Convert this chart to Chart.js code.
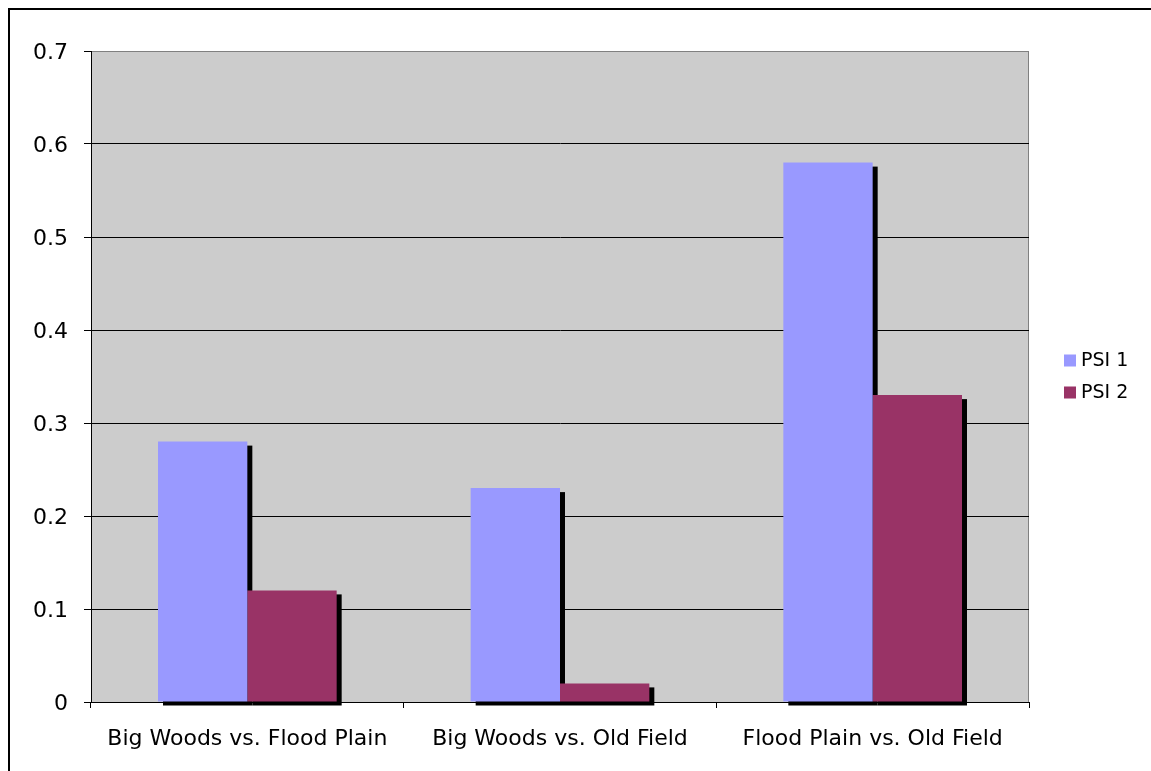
<!DOCTYPE html>
<html>
<head>
<meta charset="utf-8">
<title>PSI comparison</title>
<script src="https://cdn.jsdelivr.net/npm/chart.js@4.4.1/dist/chart.umd.min.js"></script>
<style>
  html, body { margin: 0; padding: 0; background: #fff; overflow: hidden; }
  body { width: 1151px; height: 771px; position: relative; }
  .frame {
    position: absolute; left: 8px; top: 8px; width: 2000px; height: 2000px;
    border-left: 2px solid #000; border-top: 2px solid #000;
  }
  #wrap { position: absolute; left: 0; top: 0; width: 1151px; height: 771px; }
</style>
</head>
<body>
<div class="frame"></div>
<div id="wrap"><canvas id="chart" width="1151" height="771"></canvas></div>
<script>
// Site pairs being compared
const categories = ['Big Woods vs. Flood Plain', 'Big Woods vs. Old Field', 'Flood Plain vs. Old Field'];
// Similarity index values per pair
const psi1 = [0.28, 0.23, 0.58];
const psi2 = [0.12, 0.02, 0.33];
const seriesNames = ['PSI 1', 'PSI 2'];
const yTickLabels = ['0', '0.1', '0.2', '0.3', '0.4', '0.5', '0.6', '0.7'];

const FONT = 'DejaVu Sans';

// Grey plot background with a thin border
const plotBackground = {
  id: 'plotBackground',
  beforeDraw(chart) {
    const { ctx, chartArea: a } = chart;
    ctx.save();
    ctx.fillStyle = '#CCCCCC';
    ctx.fillRect(a.left, a.top, a.right - a.left, a.bottom - a.top);
    ctx.strokeStyle = '#808080';
    ctx.lineWidth = 1;
    ctx.strokeRect(a.left + 0.5, a.top + 0.5, a.right - a.left - 1, a.bottom - a.top);
    ctx.restore();
  }
};

// Hard black drop shadow behind every bar, painted before the bars themselves
const barShadow = {
  id: 'barShadow',
  beforeDatasetsDraw(chart) {
    const ctx = chart.ctx;
    ctx.save();
    ctx.fillStyle = '#000';
    chart.data.datasets.forEach((ds, i) => {
      const meta = chart.getDatasetMeta(i);
      if (meta.hidden) return;
      meta.data.forEach((bar) => {
        const { x, y, base, width } = bar.getProps(['x', 'y', 'base', 'width'], true);
        const left = x - width / 2;
        const top = Math.min(y, base);
        const h = Math.abs(base - y);
        ctx.fillRect(left + 5, top + 4, width, h);
      });
    });
    ctx.restore();
  }
};

// Legend to the right of the plot, centred vertically
const sideLegend = {
  id: 'sideLegend',
  afterDraw(chart) {
    const { ctx, chartArea: a } = chart;
    const sets = chart.data.datasets;
    const step = 32;
    const cy = (a.top + a.bottom) / 2;
    const y0 = cy - step * (sets.length - 1) / 2;
    const bx = a.right + 35;
    ctx.save();
    ctx.font = '19px "' + FONT + '"';
    ctx.textBaseline = 'middle';
    ctx.textAlign = 'left';
    sets.forEach((ds, i) => {
      const y = y0 + i * step;
      ctx.fillStyle = ds.backgroundColor;
      ctx.fillRect(bx, y - 6, 12, 12);
      ctx.fillStyle = '#000';
      ctx.fillText(ds.label, bx + 17, y + 1);
    });
    ctx.restore();
  }
};

new Chart(document.getElementById('chart'), {
  type: 'bar',
  data: {
    labels: categories,
    datasets: [
      { label: seriesNames[0], data: psi1, backgroundColor: '#9999FF', borderWidth: 0, inflateAmount: 0 },
      { label: seriesNames[1], data: psi2, backgroundColor: '#993366', borderWidth: 0, inflateAmount: 0 }
    ]
  },
  options: {
    responsive: false,
    animation: false,
    events: [],
    layout: { padding: { left: 0, top: 51, right: 122, bottom: 0 } },
    datasets: { bar: { categoryPercentage: 2 / 3.5, barPercentage: 1 } },
    plugins: { legend: { display: false }, tooltip: { enabled: false } },
    scales: {
      x: {
        offset: true,
        grid: { display: true, drawOnChartArea: false, drawTicks: true, tickLength: 6, tickColor: '#000', offset: true },
        border: { display: true, color: '#000', width: 1 },
        ticks: { color: '#000', font: { family: FONT, size: 22 }, padding: 18, maxRotation: 0, autoSkip: false },
        afterFit(scale) { scale.height = 69; }
      },
      y: {
        min: 0, max: 0.7,
        grid: {
          color: (c) => (c.tick && c.tick.value >= 0.7 ? '#808080' : '#000'),
          tickColor: '#000', tickLength: 7, lineWidth: 1
        },
        border: { display: true, color: '#000', width: 1 },
        ticks: {
          stepSize: 0.1, color: '#000', padding: 16, labelOffset: 2,
          font: { family: FONT, size: 22 },
          callback: (v, i) => yTickLabels[i]
        },
        afterFit(scale) { scale.width = 91; }
      }
    }
  },
  plugins: [plotBackground, barShadow, sideLegend]
});
</script>
</body>
</html>
